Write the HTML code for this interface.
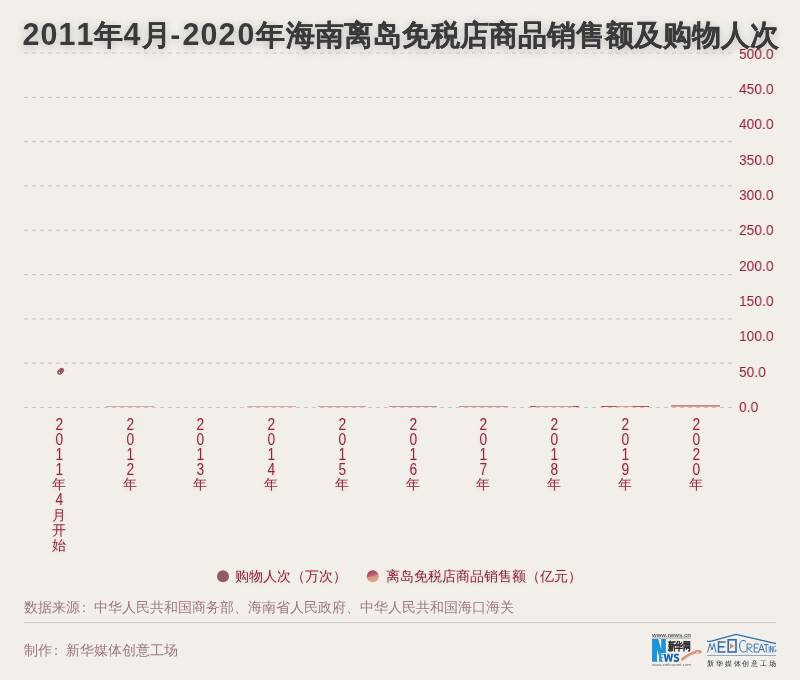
<!DOCTYPE html>
<html><head><meta charset="utf-8">
<style>
html,body{margin:0;padding:0;}
body{width:800px;height:680px;overflow:hidden;background:#f2efea;position:relative;font-family:"Liberation Sans",sans-serif;}
.a{position:absolute;white-space:nowrap;will-change:transform;}
#title{left:22px;top:14px;font-size:29px;font-weight:bold;color:#3a3a3a;line-height:40px;text-shadow:0 2px 10px rgba(0,0,0,0.25);-webkit-text-stroke:0.15px #3a3a3a;}
#title .d{font-size:32px;letter-spacing:0.3px;-webkit-text-stroke:0;} #title .d i{font-style:normal;display:inline-block;transform:scaleX(0.95);} #title .h{letter-spacing:2px;}
.yl{left:738.8px;font-size:15.5px;color:#961c36;line-height:17px;transform:scaleX(0.89);transform-origin:0 0;}
.xl{font-size:14px;color:#9b2038;line-height:15.1px;text-align:center;width:20px;white-space:normal;text-shadow:0 1px 4px rgba(0,0,0,0.1);}
.xl div{height:15.1px;}
.xd span{display:inline-block;font-size:16px;transform:scaleX(0.86);}
.lg{font-size:14px;color:#8f1f3a;line-height:18px;text-shadow:0 1px 4px rgba(0,0,0,0.1);}
.src{font-size:14px;color:#9e7783;line-height:18px;}
</style></head><body>
<div id="title" class="a"><span class="d"><i>2</i></span><span class="d"><i>0</i></span><span class="d"><i>1</i></span><span class="d"><i>1</i></span>年<span class="d"><i>4</i></span>月<span class="h">-</span><span class="d"><i>2</i></span><span class="d"><i>0</i></span><span class="d"><i>2</i></span><span class="d"><i>0</i></span><span style="margin-left:1px">年</span><span style="margin-left:1.5px">海南离岛免税店商品销售额及购物人次</span></div>

<svg class="a" style="left:0;top:0" width="800" height="680">
  <g stroke="#cbc8c3" stroke-width="1.2" stroke-dasharray="4 4">
    <line x1="24" y1="53.00" x2="732" y2="53.00"/>
    <line x1="24" y1="97.31" x2="732" y2="97.31"/>
    <line x1="24" y1="141.62" x2="732" y2="141.62"/>
    <line x1="24" y1="185.94" x2="732" y2="185.94"/>
    <line x1="24" y1="230.25" x2="732" y2="230.25"/>
    <line x1="24" y1="274.56" x2="732" y2="274.56"/>
    <line x1="24" y1="318.88" x2="732" y2="318.88"/>
    <line x1="24" y1="363.19" x2="732" y2="363.19"/>
    <line x1="24" y1="407.50" x2="732" y2="407.50"/>
  </g>
  <defs>
    <linearGradient id="bg" x1="0" y1="0" x2="0" y2="1">
      <stop offset="0" stop-color="#a04a5c"/>
      <stop offset="1" stop-color="#e3a07f"/>
    </linearGradient>
    <linearGradient id="lg2" x1="0" y1="0" x2="0.3" y2="1">
      <stop offset="0" stop-color="#a82a48"/>
      <stop offset="0.55" stop-color="#b86a78"/>
      <stop offset="0.62" stop-color="#d8967e"/>
      <stop offset="1" stop-color="#dca084"/>
    </linearGradient>
  </defs>
  <rect x="106" y="406" width="48" height="1" fill="#d8a2ab"/>
  <rect x="247" y="406" width="49" height="1" fill="#daa0aa"/>
  <rect x="318" y="406" width="48" height="1" fill="#d49aa4"/>
  <rect x="389" y="406" width="48" height="1" fill="#c98d99"/>
  <rect x="459" y="406" width="49" height="1" fill="#d48c9a"/>
  <rect x="530" y="406" width="6" height="1" fill="#b8465c"/>
  <rect x="536" y="406" width="37" height="1" fill="#d3939c"/>
  <rect x="573" y="406" width="6" height="1" fill="#b8465c"/>
  <rect x="601" y="406" width="16" height="1" fill="#b84a60"/>
  <rect x="617" y="406" width="16" height="1" fill="#dfa080"/>
  <rect x="633" y="406" width="16" height="1" fill="#b84a60"/>
  <rect x="671" y="405" width="49" height="1" fill="#c08a90"/><rect x="671" y="406" width="49" height="1" fill="#de9680"/>
  <ellipse cx="60.6" cy="371.3" rx="3.6" ry="2.3" transform="rotate(-45 60.6 371.3)" fill="#9a5a64" stroke="#a33a50" stroke-width="0.8"/><circle cx="59.4" cy="372.5" r="0.7" fill="#f4eeee"/>
  <circle cx="223" cy="576.2" r="6" fill="#975a62"/>
  <circle cx="372.8" cy="576.2" r="6" fill="url(#lg2)"/>
  <line x1="24" y1="622.5" x2="776" y2="622.5" stroke="#cdcac6" stroke-width="1"/>
</svg>

<div class="a yl" style="top:44.50px">500.0</div>
<div class="a yl" style="top:79.84px">450.0</div>
<div class="a yl" style="top:115.18px">400.0</div>
<div class="a yl" style="top:150.52px">350.0</div>
<div class="a yl" style="top:185.86px">300.0</div>
<div class="a yl" style="top:221.20px">250.0</div>
<div class="a yl" style="top:256.54px">200.0</div>
<div class="a yl" style="top:291.88px">150.0</div>
<div class="a yl" style="top:327.22px">100.0</div>
<div class="a yl" style="top:362.56px">50.0</div>
<div class="a yl" style="top:397.90px">0.0</div>

<div class="a xl" style="left:48.75px;top:416.6px"><div class="xd"><span>2</span></div><div class="xd"><span>0</span></div><div class="xd"><span>1</span></div><div class="xd"><span>1</span></div><div class="xc">年</div><div class="xd"><span>4</span></div><div class="xc">月</div><div class="xc">开</div><div class="xc">始</div></div>
<div class="a xl" style="left:119.50px;top:416.6px"><div class="xd"><span>2</span></div><div class="xd"><span>0</span></div><div class="xd"><span>1</span></div><div class="xd"><span>2</span></div><div class="xc">年</div></div>
<div class="a xl" style="left:190.25px;top:416.6px"><div class="xd"><span>2</span></div><div class="xd"><span>0</span></div><div class="xd"><span>1</span></div><div class="xd"><span>3</span></div><div class="xc">年</div></div>
<div class="a xl" style="left:261.00px;top:416.6px"><div class="xd"><span>2</span></div><div class="xd"><span>0</span></div><div class="xd"><span>1</span></div><div class="xd"><span>4</span></div><div class="xc">年</div></div>
<div class="a xl" style="left:331.75px;top:416.6px"><div class="xd"><span>2</span></div><div class="xd"><span>0</span></div><div class="xd"><span>1</span></div><div class="xd"><span>5</span></div><div class="xc">年</div></div>
<div class="a xl" style="left:402.50px;top:416.6px"><div class="xd"><span>2</span></div><div class="xd"><span>0</span></div><div class="xd"><span>1</span></div><div class="xd"><span>6</span></div><div class="xc">年</div></div>
<div class="a xl" style="left:473.25px;top:416.6px"><div class="xd"><span>2</span></div><div class="xd"><span>0</span></div><div class="xd"><span>1</span></div><div class="xd"><span>7</span></div><div class="xc">年</div></div>
<div class="a xl" style="left:544.00px;top:416.6px"><div class="xd"><span>2</span></div><div class="xd"><span>0</span></div><div class="xd"><span>1</span></div><div class="xd"><span>8</span></div><div class="xc">年</div></div>
<div class="a xl" style="left:614.75px;top:416.6px"><div class="xd"><span>2</span></div><div class="xd"><span>0</span></div><div class="xd"><span>1</span></div><div class="xd"><span>9</span></div><div class="xc">年</div></div>
<div class="a xl" style="left:685.50px;top:416.6px"><div class="xd"><span>2</span></div><div class="xd"><span>0</span></div><div class="xd"><span>2</span></div><div class="xd"><span>0</span></div><div class="xc">年</div></div>

<div class="a lg" style="left:235px;top:567px">购物人次（万次）</div>
<div class="a lg" style="left:386px;top:567px">离岛免税店商品销售额（亿元）</div>

<div class="a src" style="left:24px;top:598px">数据来源<span style="margin-left:-3px;margin-right:3px">：</span>中华人民共和国商务部、海南省人民政府、中华人民共和国海口海关</div>
<div class="a src" style="left:24px;top:641px">制作<span style="margin-left:-3px;margin-right:3px">：</span>新华媒体创意工场</div>


<svg class="a" style="left:640px;top:625px" width="160" height="55">
  <g transform="translate(-640,-625)">
    <text x="652" y="637" font-family="Liberation Sans" font-size="5" font-weight="bold" fill="#555" textLength="39" lengthAdjust="spacingAndGlyphs">www.news.cn</text>
    <rect x="652" y="637.6" width="39" height="0.9" fill="#9a9a9a"/>
    <path d="M652 639 H665.8 V653 H661 L662 661.7 H652 Z" fill="#1a94d6"/>
    <path d="M658.2 639 L661.2 639 L661.2 649.5 Z" fill="#f3f1ec"/>
    <path d="M657 649.5 L657 661.7 L660.6 661.7 Z" fill="#f3f1ec"/>
    <path d="M659 654.3 H663.4 M659.6 657.7 H663 M659 661 H663.4 M659.6 654 V661.5" stroke="#3a9ad6" stroke-width="1.2"/>
    <path d="M663.6 653.8 L665.3 661.7 H667.2 L668.4 656.8 L669.6 661.7 H671.5 L673.2 653.8 H671.3 L670.4 658.8 L669.2 653.8 H667.6 L666.5 658.8 L665.6 653.8 Z" fill="#1a62b0"/>
    <path d="M678.6 655.4 C677.8 653.9 674.6 653.8 674.6 655.9 C674.6 658 678.4 657.4 678.4 659.4 C678.4 661.5 675 661.6 674.1 660" stroke="#1a62b0" stroke-width="1.8" fill="none"/>
    <text x="667.5" y="649.6" font-family="Liberation Sans" font-size="10.5" font-weight="bold" fill="#2a2a2a" stroke="#2a2a2a" stroke-width="0.15" textLength="23.5" lengthAdjust="spacingAndGlyphs">新华网</text>
    <text x="652" y="666" font-family="Liberation Sans" font-size="4" fill="#666" textLength="39" lengthAdjust="spacingAndGlyphs">www.xinhuanet.com</text>
    <path d="M681.2 658.6 C684 656.5 688.5 653.2 693 651.6 L696.3 650.1 H700.2 L702.2 652 L700.2 653.6 H696 C691 654.6 687 657.2 683.2 660.6 C681.6 661 680.6 660 681.2 658.6 Z" fill="#d8957a"/><path d="M695.8 652.8 L697.6 651.2 L698.6 652.8 Z" fill="#f3f1ec"/>
  </g>
</svg>
<svg class="a" style="left:700px;top:628px" width="100" height="52">
  <g transform="translate(-700,-628)">
    <path d="M707 641.4 H710.5 L736 634.4 L776 643.6" stroke="#2b6bb0" stroke-width="1.1" fill="none"/>
    <path d="M707.5 652.5 L710 643.5 L712 650 L714 643.5 L716 652.5" stroke="#2b6bb0" stroke-width="0.9" fill="none"/>
    <path d="M725.5 642 H718.5 V651.9 H725.5 M718.5 646.7 H724.5" stroke="#2b6bb0" stroke-width="1.5" fill="none"/>
    <rect x="728.2" y="639.8" width="7.8" height="12.2" stroke="#2b6bb0" stroke-width="1.6" fill="none"/>
    <path d="M730 643.5 L734.2 646 L730 649 Z" fill="#d98a72"/>
    <path d="M745.8 641.5 C744 639.5 739.6 640 739.6 646 C739.6 652.5 744 653 746 651" stroke="#2b6bb0" stroke-width="1" fill="none"/>
    <path d="M747 652.5 V644 H750 C752.5 644 752.5 648 750 648 H747.5 L752.5 652.5" stroke="#2b6bb0" stroke-width="0.9" fill="none"/>
    <path d="M758.8 644 H754.2 V652 H758.8 M754.2 648 H758" stroke="#2b6bb0" stroke-width="0.9" fill="none"/>
    <path d="M758.5 652.5 L761.5 644 L764.5 652.5 M759.6 649.5 H763.4" stroke="#2b6bb0" stroke-width="0.9" fill="none"/>
    <path d="M764 644.5 H768.5 M766.2 644.5 V652.5" stroke="#2b6bb0" stroke-width="0.9" fill="none"/>
    <path d="M769.2 646 V652.5 M770.5 652.5 V646 L772.8 652.5 V646 M776 647 C775 645.5 773.6 646 773.6 649.2 C773.6 652.5 776 652.5 776 650 H775" stroke="#2b6bb0" stroke-width="0.7" fill="none"/>
    <rect x="707" y="655" width="69" height="0.8" fill="#8196b2"/>
    <text x="707" y="666.3" font-family="Liberation Sans" font-size="7.2" fill="#2a2a2a" textLength="69" lengthAdjust="spacing">新华媒体创意工场</text>
  </g>
</svg>
</body></html>
